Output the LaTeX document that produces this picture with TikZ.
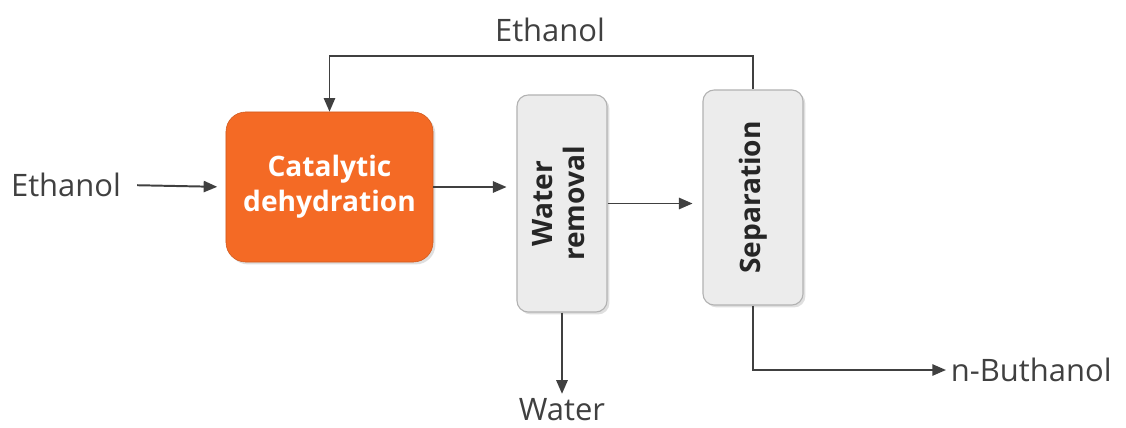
\documentclass[tikz,border=0pt]{standalone}
\usepackage{fontspec}
\setmainfont{Open Sans}
\definecolor{procorange}{RGB}{244, 106, 37}
\definecolor{unitgray}{RGB}{236, 236, 236}
\definecolor{linegray}{RGB}{64, 64, 64}
\usetikzlibrary{arrows.meta, shadows}

\begin{document}
\begin{tikzpicture}[x=0.025cm, y=-0.025cm,
  flow/.style={draw=linegray, line width=1.4pt, -{Triangle[length=3.4mm, width=2.8mm]}},
  stream/.style={text=linegray, font=\fontsize{22}{26}\selectfont},
  unit/.style={draw=gray!60, fill=unitgray, rounded corners=8pt, line width=0.8pt,
    drop shadow={opacity=0.25, shadow xshift=0.6mm, shadow yshift=-0.6mm},
    text=black!85, font=\bfseries\fontsize{20}{23}\selectfont, inner sep=0pt}]
  \useasboundingbox (0,0) rectangle (1126,428);

  % process units
  \node[draw=procorange!85!black, fill=procorange, rounded corners=14pt,
    drop shadow={opacity=0.25, shadow xshift=0.6mm, shadow yshift=-0.6mm},
    minimum width=5.175cm, minimum height=3.75cm, align=center, text=white,
    font=\bfseries\fontsize{20}{25}\selectfont] (cat) at (329.5,187) {Catalytic\\dehydration};
  \node[unit, minimum width=2.25cm, minimum height=5.425cm] (wr) at (562,203.5)
    {\rotatebox{90}{\begin{tabular}{@{}c@{}}Water\\removal\end{tabular}}};
  \node[unit, minimum width=2.5cm, minimum height=5.375cm] (sep) at (753,197.5)
    {\rotatebox{90}{Separation}};

  % streams
  \node[stream] (feed) at (66,185) {Ethanol};
  \node[stream] (recycle) at (550,30) {Ethanol};
  \node[stream] (water) at (562,410) {Water};
  \node[stream, anchor=west] (prod) at (946,370) {n-Buthanol};

  \draw[flow, shorten <=8pt, shorten >=6pt] (feed.east) -- (cat.west);
  \draw[flow, shorten >=7pt] (cat.east) -- (cat.east -| wr.west);
  \draw[flow, shorten >=7pt] (wr.east) -- (wr.east -| sep.west);
  \draw[flow] (sep.north) -- ++(0,-33) -| (cat.north);
  \draw[flow] (wr.south) -- (water.north);
  \draw[flow] (sep.south) |- (prod.west);
\end{tikzpicture}
\end{document}
